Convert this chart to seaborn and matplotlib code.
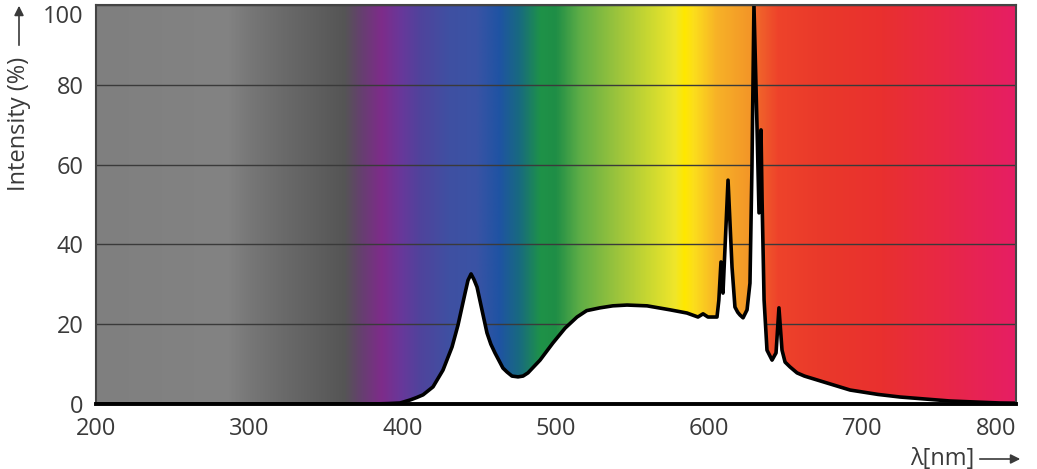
import numpy as np
import pandas as pd
import matplotlib
matplotlib.use("Agg")
import matplotlib.pyplot as plt
import seaborn as sns
from matplotlib.colors import LinearSegmentedColormap

# ---- data ----
wavelength = [200, 380, 390, 398.3, 404.8, 409, 413.3, 419.8, 426.3, 432.2, 436.1, 440.7, 442.6,
              444.6, 446.5, 448.5, 451.7, 455.0, 457.5, 460.2, 465.4, 468.1, 471.3, 475.2, 478.5,
              481.7, 489.6, 498.0, 505.9, 513.7, 520, 528.7, 537, 546.3, 559.4, 574.4, 585.4,
              592.6, 595.9, 599.1, 605.0, 606.2, 607.6, 608.9, 612.2, 614.8, 616.7, 618.5, 620.0,
              622.0, 624.6, 626.5, 627.8, 629.1, 631.1, 632.4, 633.7, 634.4, 635.7, 637.6, 640.9,
              643.5, 645.4, 647.4, 649.4, 652.6, 657.2, 662, 672.2, 691.8, 710, 724.4, 757, 789.6,
              800]
intensity = [0, 0, 0.1, 0.25, 1.0, 1.6, 2.3, 4.3, 8.5, 14.3, 19.8, 27.8, 31.0,
             32.6, 31.2, 29.3, 23.6, 17.8, 15.0, 12.8, 9.0, 8.0, 7.0, 6.8, 7.0,
             7.8, 11.0, 15.3, 19.0, 21.8, 23.4, 24.1, 24.6, 24.8, 24.6, 23.6, 22.8,
             21.8, 22.6, 21.8, 21.8, 26.0, 35.6, 27.8, 56.1, 34.3, 24.3, 23.0, 22.3,
             21.6, 23.6, 30.3, 59.4, 100, 69.4, 47.9, 68.7, 51.1, 26.1, 13.5, 11.0,
             12.8, 24.1, 13.5, 10.5, 9.3, 7.8, 7.0, 5.8, 3.5, 2.4, 1.75, 0.75, 0.25,
             0.2]
x_ticks = [200, 300, 400, 500, 600, 700, 800]
y_ticks = [0, 20, 40, 60, 80, 100]

df = pd.DataFrame({"wavelength": wavelength, "intensity": intensity})

# background spectrum colour stops (style)
bg_stops = [(200, '#7f7f7f'), (285, '#838383'), (300, '#777777'), (320, '#6b6b6b'),
            (345, '#5e5e5e'), (362, '#555555'), (373, '#663f70'), (386, '#7e2c8a'),
            (399, '#68389a'), (411, '#50439c'), (430, '#3f50a2'), (448, '#3a53a5'),
            (463, '#1f53a3'), (476, '#186a80'), (490, '#1e9248'), (500, '#1f8e46'),
            (516, '#5fae46'), (540, '#9cc43c'), (561, '#cad831'), (578, '#f0e62a'),
            (584, '#ffe800'), (590, '#fcde1c'), (605, '#f7b227'), (628, '#f39428'),
            (630, '#f06a2a'), (645, '#ee432b'), (670, '#ea3a2a'), (713, '#e9302f'),
            (757, '#e82748'), (800, '#e61e64')]

sns.set_style("white")
plt.rcParams['font.family'] = ['Open Sans', 'DejaVu Sans']

W, H = 1037, 469
fig = plt.figure(figsize=(W / 100, H / 100), dpi=100)
ax = fig.add_axes([96 / W, (H - 404) / H, 920 / W, 399 / H])

x0, x1 = x_ticks[0], x_ticks[-1]
pos = [(s[0] - x0) / (x1 - x0) for s in bg_stops]
cmap = LinearSegmentedColormap.from_list("spec", list(zip(pos, [s[1] for s in bg_stops])), N=1024)
grad = np.linspace(0, 1, 1200).reshape(1, -1)
ax.imshow(grad, cmap=cmap, aspect='auto', extent=[x0, x1, 0, 100], zorder=0,
          interpolation='bilinear')

ax.fill_between(df["wavelength"], 0, df["intensity"], color='white', zorder=2, lw=0)
sns.lineplot(data=df, x="wavelength", y="intensity", ax=ax, color='black', lw=2.6,
             zorder=3, sort=False, solid_joinstyle='round')

ax.set_xlim(x0, x1)
ax.set_ylim(0, 100)
ax.set_xticks(x_ticks)
ax.set_yticks(y_ticks)
ax.set_xticklabels([str(t) for t in x_ticks])
ax.set_yticklabels([str(t) for t in y_ticks])
ax.set_xlabel("")
ax.set_ylabel("")
ax.set_axisbelow(True)
ax.yaxis.grid(True, color='#3a3a3a', lw=1.0)
ax.xaxis.grid(False)

txtc = '#3a3a3a'
ax.tick_params(axis='both', length=0, labelsize=17, labelcolor=txtc)
ax.tick_params(axis='y', pad=9)
ax.tick_params(axis='x', pad=9)
xl = ax.get_xticklabels()
xl[-1].set_ha('right')
xl[-1].set_x(x1 + 3)
yl = ax.get_yticklabels()
yl[-1].set_va('top')

for side in ['top', 'right', 'left']:
    ax.spines[side].set_color('#444444')
    ax.spines[side].set_linewidth(1.5)
ax.spines['bottom'].set_color('black')
ax.spines['bottom'].set_linewidth(2.8)
for sp in ax.spines.values():
    sp.set_zorder(5)

# axis titles with arrows
fig.text(19 / W, 1 - 124 / H, "Intensity (%)", rotation=90, ha='center', va='center',
         fontsize=17, color=txtc)
ax.annotate('', xy=(19, H - 3), xycoords='figure pixels', xytext=(19, H - 48),
            textcoords='figure pixels',
            arrowprops=dict(arrowstyle='-|>', color=txtc, lw=1.2, mutation_scale=14))
fig.text(942 / W, 10 / H, "λ[nm]", ha='center', va='center', fontsize=17, color=txtc)
ax.annotate('', xy=(1023, 10), xycoords='figure pixels', xytext=(977, 10),
            textcoords='figure pixels',
            arrowprops=dict(arrowstyle='-|>', color=txtc, lw=1.2, mutation_scale=14))

fig.savefig("out.png", dpi=100)
